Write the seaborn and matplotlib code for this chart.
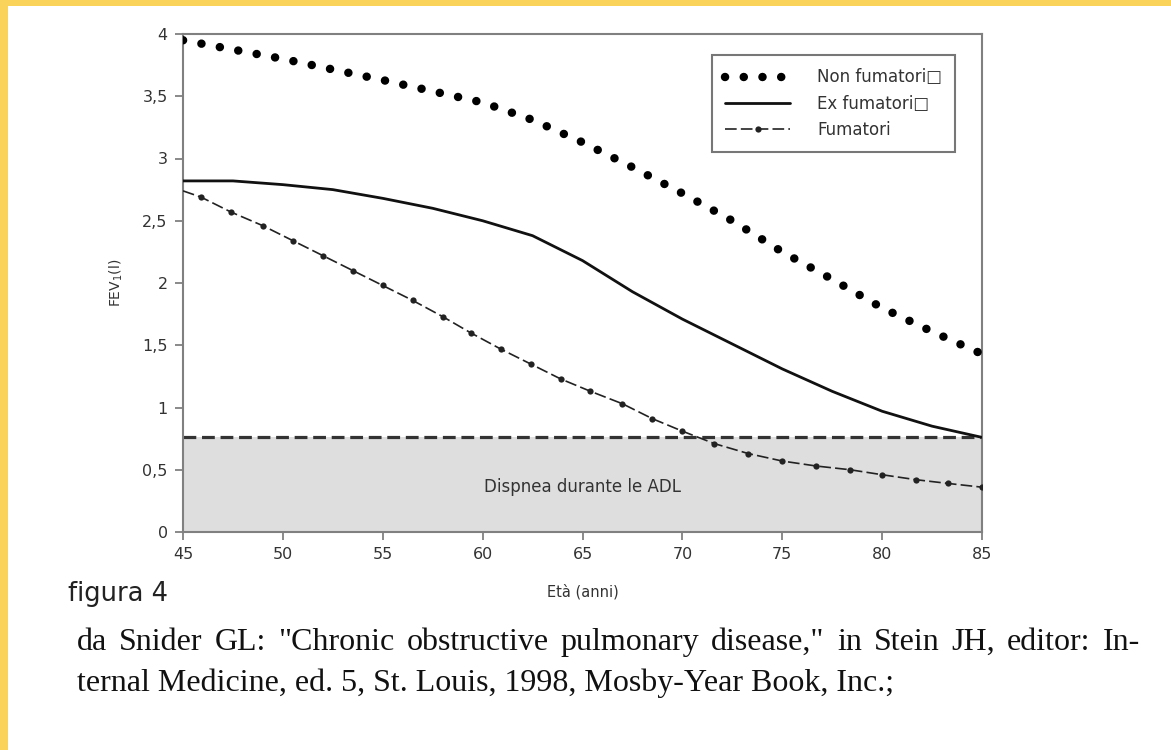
import matplotlib
matplotlib.use("Agg")
import matplotlib.pyplot as plt
import seaborn as sns
import pandas as pd
from matplotlib.patches import Rectangle

# ---- data ----
ages_non = [45, 50, 55, 60, 62.5, 65, 67.5, 70, 72.5, 75, 77.5, 80, 82.5, 85]
fev_non = [3.95, 3.80, 3.63, 3.45, 3.31, 3.13, 2.93, 2.72, 2.50, 2.25, 2.03, 1.80, 1.61, 1.43]

ages_ex = [45, 47.5, 50, 52.5, 55, 57.5, 60, 62.5, 65, 67.5, 70, 72.5, 75, 77.5, 80, 82.5, 85]
fev_ex = [2.82, 2.82, 2.79, 2.75, 2.68, 2.60, 2.50, 2.38, 2.18, 1.93, 1.71, 1.51, 1.31, 1.13, 0.97, 0.85, 0.76]

ages_fum = [45, 45.9, 47.4, 49.0, 50.5, 52.0, 53.5, 55.0, 56.5, 58.0, 59.4, 60.9, 62.4, 63.9,
            65.4, 67.0, 68.5, 70.0, 71.6, 73.3, 75.0, 76.7, 78.4, 80.0, 81.7, 83.3, 85.0]
fev_fum = [2.74, 2.69, 2.57, 2.46, 2.34, 2.22, 2.10, 1.98, 1.86, 1.73, 1.60, 1.47, 1.35, 1.23,
           1.13, 1.03, 0.91, 0.81, 0.71, 0.63, 0.57, 0.53, 0.50, 0.46, 0.42, 0.39, 0.36]

soglia = 0.76
x_ticks = [45, 50, 55, 60, 65, 70, 75, 80, 85]
y_ticks = [0, 0.5, 1, 1.5, 2, 2.5, 3, 3.5, 4]
y_ticklabels = ["0", "0,5", "1", "1,5", "2", "2,5", "3", "3,5", "4"]
labels = ["Non fumatori\u25a1", "Ex fumatori\u25a1", "Fumatori"]
caption_1 = 'da Snider GL: "Chronic obstructive pulmonary disease," in Stein JH, editor: In-'
caption_2 = "ternal Medicine, ed. 5, St. Louis, 1998, Mosby-Year Book, Inc.;"

df_non = pd.DataFrame({"age": ages_non, "fev": fev_non})
df_ex = pd.DataFrame({"age": ages_ex, "fev": fev_ex})
df_fum = pd.DataFrame({"age": ages_fum, "fev": fev_fum})

sns.set_style("ticks")
plt.rcParams["font.family"] = ["DejaVu Sans"]

W, H = 1171, 750
fig = plt.figure(figsize=(W / 100, H / 100), dpi=100)
fig.patch.set_facecolor("white")
ax = fig.add_axes([183 / W, 1 - 532 / H, (982 - 183) / W, (532 - 34) / H])

# shaded region + threshold
ax.axhspan(0, soglia, color="#dedede", zorder=0, lw=0)
ax.axhline(soglia, color="#333333", lw=2.3, linestyle=(0, (4, 1.8)), zorder=2)

grey = "#808080"
sns.lineplot(data=df_non, x="age", y="fev", ax=ax, color="black", lw=6.1,
             linestyle=(0, (0.01, 2.2)), dash_capstyle="round", label=labels[0], zorder=4)
sns.lineplot(data=df_ex, x="age", y="fev", ax=ax, color="#111111", lw=2.0,
             label=labels[1], zorder=3)
sns.lineplot(data=df_fum, x="age", y="fev", ax=ax, color="#222222", lw=1.2,
             linestyle=(0, (7, 2.5)), marker="o", markersize=4.5, markevery=slice(1, None),
             markeredgewidth=0, label=labels[2], zorder=3)

ax.set_xlim(45, 85)
ax.set_ylim(0, 4)
ax.set_xticks(x_ticks)
ax.set_xticklabels([str(t) for t in x_ticks])
ax.set_yticks(y_ticks)
ax.set_yticklabels(y_ticklabels)
ax.tick_params(axis="both", length=6, width=1.3, color=grey, labelsize=11.5,
               labelcolor="#333333", pad=5, direction="out")
for s in ax.spines.values():
    s.set_color(grey)
    s.set_linewidth(1.5)

ax.set_xlabel("Età (anni)", fontsize=10.5, color="#333333")
ax.xaxis.set_label_coords(0.5, -0.105)
ax.set_ylabel("FEV$_1$(l)", fontsize=10, color="#333333")
ax.yaxis.set_label_coords(-0.072, 0.5)

ax.text(65, 0.36, "Dispnea durante le ADL", ha="center", va="center",
        fontsize=12, color="#333333")

leg = ax.legend(loc="upper left", bbox_to_anchor=((712 - 183) / 799, (532 - 55) / 498),
                fontsize=12, handlelength=3.9, handletextpad=1.6, labelspacing=0.5,
                borderpad=0.8, borderaxespad=0, fancybox=False, framealpha=1,
                edgecolor="#777777")
leg.get_frame().set_linewidth(1.5)
for t in leg.get_texts():
    t.set_color("#333333")

# captions
fig.text(68 / W, 1 - 601 / H, "figura 4", fontsize=18.5, color="#222222",
         ha="left", va="baseline")

cap_kw = dict(fontsize=23, family="Liberation Serif", color="#111111",
              ha="left", va="baseline")
# first line is justified between x=77 and x=1140 px
renderer = fig.canvas.get_renderer()
words = caption_1.split(" ")
word_texts = [fig.text(0, 1 - 650 / H, w, **cap_kw) for w in words]
widths = [t.get_window_extent(renderer).width for t in word_texts]
left_px, right_px = 77, 1140
gap = (right_px - left_px - sum(widths)) / (len(words) - 1)
x = left_px
for t, w in zip(word_texts, widths):
    t.set_x(x / W)
    x += w + gap
fig.text(77 / W, 1 - 691 / H, caption_2, **cap_kw)

# yellow frame strips
yellow = "#F9D35A"
fig.patches.append(Rectangle((0, 0), 8 / W, 1, transform=fig.transFigure,
                             facecolor=yellow, edgecolor="none", zorder=0))
fig.patches.append(Rectangle((0, 1 - 6 / H), 1, 6 / H, transform=fig.transFigure,
                             facecolor=yellow, edgecolor="none", zorder=0))

fig.savefig("out.png", dpi=100)
